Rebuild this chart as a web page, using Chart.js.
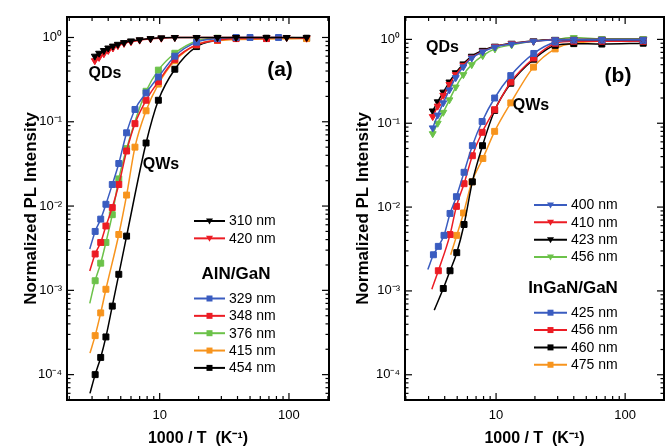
<!DOCTYPE html>
<html>
<head>
<meta charset="utf-8">
<script src="https://cdn.jsdelivr.net/npm/chart.js@4/dist/chart.umd.min.js"></script>
<style>
  body { margin: 0; background: #fff; }
  #wrap { position: relative; width: 670px; height: 448px; }
  .panel { position: absolute; top: 0; width: 335px; height: 448px; }
</style>
</head>
<body>
<div id="wrap">
  <div class="panel" style="left:0"><canvas id="chartA" width="335" height="448"></canvas></div>
  <div class="panel" style="left:335px"><canvas id="chartB" width="335" height="448"></canvas></div>
</div>
<script>
// =================================================================
// Data - x = 1000/T (K^-1), y = normalized PL
// =================================================================
// Panel (a) - AlN/GaN
const aQdX    = [3.15, 3.4, 3.7, 4.0, 4.35, 4.75, 5.3, 6.0, 7.0, 8.5, 10.3, 13.1, 19.3, 28, 39, 67, 96, 137];
const aQd310  = [0.60, 0.65, 0.70, 0.75, 0.79, 0.83, 0.87, 0.91, 0.94, 0.97, 0.99, 1.0, 1.0, 1.0, 1.0, 1.0, 1.0, 1.0];
const aQd420  = [0.53, 0.58, 0.64, 0.70, 0.75, 0.80, 0.85, 0.89, 0.93, 0.96, 0.98, 1.0, 1.0, 1.0, 1.0, 1.0, 1.0, 0.98];

const aQw329X = [3.17, 3.5, 3.84, 4.3, 4.83, 5.55, 6.44, 7.85, 9.77, 13.1, 19.3, 28, 39, 50, 83];
const aQw329  = [5.0e-3, 7.0e-3, 1.05e-2, 1.8e-2, 3.2e-2, 7.4e-2, 0.14, 0.22, 0.34, 0.60, 0.88, 0.97, 1.0, 1.0, 1.0];
const aQw348X = [3.17, 3.5, 3.84, 4.3, 4.83, 5.55, 6.44, 7.85, 9.77, 13.1, 19.3, 28, 39, 67];
const aQw348  = [2.7e-3, 3.7e-3, 5.8e-3, 9.6e-3, 1.8e-2, 4.5e-2, 9.5e-2, 0.18, 0.30, 0.55, 0.82, 0.93, 0.97, 0.97];
const aQw376X = [3.17, 3.5, 3.84, 4.3, 4.83, 5.55, 7.85, 9.77, 13.1, 19.3, 28, 39];
const aQw376  = [1.3e-3, 2.1e-3, 3.7e-3, 7.9e-3, 2.1e-2, 4.8e-2, 0.23, 0.41, 0.65, 0.91, 0.98, 1.0];
const aQw415X = [3.17, 3.5, 3.84, 4.83, 5.55, 6.44, 7.85, 9.77, 13.1, 19.3, 28, 137];
const aQw415  = [2.9e-4, 5.4e-4, 1.03e-3, 4.6e-3, 1.35e-2, 5.0e-2, 0.135, 0.28, 0.53, 0.82, 0.92, 0.97];
const aQw454X = [3.17, 3.5, 3.84, 4.3, 4.83, 5.55, 7.85, 9.77, 13.1, 19.3, 28, 39, 67, 137];
const aQw454  = [1.0e-4, 1.6e-4, 2.8e-4, 6.5e-4, 1.55e-3, 4.4e-3, 5.6e-2, 0.18, 0.42, 0.78, 0.93, 0.98, 0.98, 0.98];
// low-T end of the fitted curves (where each line starts)
const aFitStart = { qw329: [2.88, 3.1e-3], qw348: [2.88, 1.7e-3], qw376: [2.88, 7e-4], qw415: [2.89, 1.8e-4], qw454: [2.89, 6e-5] };

// Panel (b) - InGaN/GaN
const bQdX    = [3.23, 3.53, 3.9, 4.35, 4.87, 5.58, 6.48, 7.88, 9.8, 13.2, 19.5, 28.7, 40, 66, 138];
const bQd400  = [0.088, 0.125, 0.175, 0.25, 0.35, 0.47, 0.60, 0.71, 0.81, 0.88, 0.95, 0.99, 1.0, 1.0, 1.0];
const bQd410  = [0.12, 0.16, 0.215, 0.29, 0.38, 0.49, 0.61, 0.72, 0.82, 0.89, 0.95, 0.99, 1.0, 1.0, 1.0];
const bQd423  = [0.14, 0.18, 0.235, 0.31, 0.40, 0.51, 0.63, 0.74, 0.83, 0.90, 0.96, 1.0, 1.0, 1.0, 1.0];
const bQd456  = [0.075, 0.10, 0.135, 0.19, 0.27, 0.38, 0.50, 0.64, 0.77, 0.86, 0.95, 1.0, 1.05, 1.02, 1.02];

const bQw425X = [3.27, 3.57, 3.95, 4.4, 4.93, 5.65, 6.55, 7.8, 9.75, 13, 19.6, 28.7, 40, 66, 138];
const bQw425  = [2.7e-3, 3.4e-3, 4.6e-3, 8.4e-3, 1.33e-2, 2.6e-2, 5.4e-2, 0.105, 0.20, 0.37, 0.68, 0.93, 0.98, 0.98, 0.97];
const bQw456X = [3.57, 4.4, 4.93, 5.65, 6.55, 7.8, 9.75, 13, 19.6, 28.7, 40, 66, 138];
const bQw456  = [1.74e-3, 4.7e-3, 1.02e-2, 1.9e-2, 4.1e-2, 7.8e-2, 0.145, 0.31, 0.60, 0.90, 0.95, 0.95, 0.95];
const bQw460X = [3.9, 4.4, 4.96, 5.65, 6.55, 7.85, 9.75, 13, 19.6, 28.7, 40, 66, 138];
const bQw460  = [1.07e-3, 1.74e-3, 2.86e-3, 6.2e-3, 2.0e-2, 5.4e-2, 0.142, 0.30, 0.58, 0.85, 0.89, 0.88, 0.90];
const bQw475X = [4.96, 5.6, 6.5, 7.9, 9.75, 13, 19.5, 28.7, 40, 138];
const bQw475  = [4.6e-3, 8.5e-3, 2.0e-2, 3.8e-2, 8.0e-2, 0.175, 0.467, 0.77, 0.90, 0.98];
const bFitStart = { qw425: [2.96, 1.8e-3], qw456: [3.18, 1.05e-3], qw460: [3.32, 5.9e-4], qw475: [4.45, 2.7e-3] };

// Tick values
const xMajorTicks = [10, 100];
const xMinorTicks = [2, 3, 4, 5, 6, 7, 8, 9, 20, 30, 40, 50, 60, 70, 80, 90, 200];
const yMajorTicks = [1e-4, 1e-3, 1e-2, 1e-1, 1];
const yMinorTicks = [];
[-5, -4, -3, -2, -1, 0].forEach(e => { for (let m = 2; m <= 9; m++) yMinorTicks.push(m * Math.pow(10, e)); });
const supDigits = { '0': '⁰', '1': '¹', '2': '²', '3': '³', '4': '⁴', '-': '⁻' };

// Colours
const cBlue = '#3a5cc0', cRed = '#ec1c24', cGreen = '#6cc24a', cOrange = '#f7941d', cBlack = '#000000';
const FONT = "'Liberation Sans', Arial, Helvetica, sans-serif";

// =================================================================
// Helpers
// =================================================================
const pts = (xs, ys) => xs.map((x, i) => ({ x: x, y: ys[i] }));

function series(label, color, xs, ys, start, marker) {
    const p = pts(xs, ys);
    const tri = marker === 'tri';
    return [
        {   // fitted curve
            label: label, isFit: true,
            data: start ? [{ x: start[0], y: start[1] }].concat(p) : p,
            borderColor: color, borderWidth: 1.5,
            pointRadius: 0, cubicInterpolationMode: 'monotone', fill: false
        },
        {   // measured points
            label: label, marker: marker, color: color,
            data: p, showLine: false,
            pointStyle: tri ? 'triangle' : 'rect', rotation: tri ? 180 : 0,
            pointRadius: tri ? 4 : 4.2,
            backgroundColor: color, borderColor: color, borderWidth: 1
        }
    ];
}

// frame, inward ticks, annotations and legend
const decoPlugin = {
    id: 'deco',
    afterDraw(chart, args, opts) {
        const { ctx, chartArea: a, scales: { x, y } } = chart;
        ctx.save();
        ctx.strokeStyle = '#000';
        ctx.lineWidth = 1.2;
        const seg = (x1, y1, x2, y2) => { ctx.beginPath(); ctx.moveTo(x1, y1); ctx.lineTo(x2, y2); ctx.stroke(); };
        const yTicks = (vals, len) => vals.forEach(v => {
            if (v < y.min || v > y.max) return;
            const py = y.getPixelForValue(v);
            seg(a.left, py, a.left + len, py); seg(a.right, py, a.right - len, py);
        });
        const xTicks = (vals, len) => vals.forEach(v => {
            if (v < x.min || v > x.max) return;
            const px = x.getPixelForValue(v);
            seg(px, a.bottom, px, a.bottom - len); seg(px, a.top, px, a.top + len);
        });
        yTicks(yMinorTicks, 3.5); yTicks(yMajorTicks, 7);
        xTicks(xMinorTicks, 4); xTicks(xMajorTicks, 7);
        ctx.lineWidth = 2;
        ctx.strokeRect(a.left, a.top, a.right - a.left, a.bottom - a.top);

        // annotations
        ctx.fillStyle = '#000';
        ctx.textAlign = 'center';
        ctx.textBaseline = 'middle';
        opts.notes.forEach(n => {
            ctx.font = 'bold ' + n.size + 'px ' + FONT;
            ctx.fillText(n.text, n.x, n.y);
        });

        // legend
        const L = opts.legend;
        const items = chart.data.datasets.filter(d => !d.isFit);
        let row = L.y0;
        items.forEach((d, i) => {
            if (i === L.headAfter) {
                ctx.font = 'bold 17px ' + FONT;
                ctx.textAlign = 'center';
                ctx.fillStyle = '#000';
                ctx.fillText(L.head, L.headX, L.headY);
                row = L.y1;
            }
            ctx.strokeStyle = d.color; ctx.lineWidth = 2;
            seg(L.x0, row, L.x1, row);
            ctx.fillStyle = d.color;
            const mx = (L.x0 + L.x1) / 2;
            ctx.beginPath();
            if (d.marker === 'tri') {
                ctx.moveTo(mx - 3.5, row - 2.5); ctx.lineTo(mx + 3.5, row - 2.5); ctx.lineTo(mx, row + 3.5);
            } else {
                ctx.rect(mx - 3, row - 3, 6, 6);
            }
            ctx.fill();
            ctx.fillStyle = '#000';
            ctx.font = '14px ' + FONT;
            ctx.textAlign = 'left';
            ctx.fillText(d.label, L.x1 + 4, row + 0.5);
            row += L.step;
        });
        ctx.restore();
    }
};

function makeChart(id, datasets, xMin, xMax, yMax, yAxisW, yTitlePad, deco) {
    return new Chart(document.getElementById(id), {
        type: 'line',
        data: { datasets: datasets },
        options: {
            responsive: false,
            animation: false,
            devicePixelRatio: 1,
            layout: { padding: { top: 17, right: 6, bottom: 0, left: 0 } },
            plugins: { legend: { display: false }, tooltip: { enabled: false }, deco: deco },
            scales: {
                x: {
                    type: 'logarithmic', min: xMin, max: xMax,
                    grid: { display: false, drawTicks: false }, border: { display: false },
                    afterBuildTicks: s => { s.ticks = xMajorTicks.map(v => ({ value: v })); },
                    afterFit: s => { s.height = 48; },
                    ticks: { autoSkip: false, maxRotation: 0, padding: 8, color: '#000',
                             font: { family: FONT, size: 13 }, callback: v => String(v) },
                    title: { display: true, text: '1000 / T  (K⁻¹)', color: '#000', padding: { top: 0, bottom: 0 },
                             font: { family: FONT, size: 16, weight: 'bold', lineHeight: 1.2 } }
                },
                y: {
                    type: 'logarithmic', min: 5e-5, max: yMax,
                    grid: { display: false, drawTicks: false }, border: { display: false },
                    afterBuildTicks: s => { s.ticks = yMajorTicks.map(v => ({ value: v })); },
                    afterFit: s => { s.width = yAxisW; },
                    ticks: { autoSkip: false, padding: 5, color: '#000', font: { family: FONT, size: 13 },
                             callback: v => '10' + String(Math.round(Math.log10(v))).split('').map(c => supDigits[c]).join('') },
                    title: { display: true, text: 'Normalized PL Intensity', color: '#000', padding: { top: yTitlePad, bottom: 0 },
                             font: { family: FONT, size: 17, weight: 'bold', lineHeight: 1.2 } }
                }
            }
        },
        plugins: [decoPlugin]
    });
}

document.addEventListener('DOMContentLoaded', () => {
    // =================================================================
    // 1. Panel (a) - AlN/GaN  (first dataset is drawn on top)
    // =================================================================
    const dsA = [].concat(
        series('310 nm', cBlack, aQdX, aQd310, null, 'tri'),
        series('420 nm', cRed, aQdX, aQd420, null, 'tri'),
        series('329 nm', cBlue, aQw329X, aQw329, aFitStart.qw329, 'sq'),
        series('348 nm', cRed, aQw348X, aQw348, aFitStart.qw348, 'sq'),
        series('376 nm', cGreen, aQw376X, aQw376, aFitStart.qw376, 'sq'),
        series('415 nm', cOrange, aQw415X, aQw415, aFitStart.qw415, 'sq'),
        series('454 nm', cBlack, aQw454X, aQw454, aFitStart.qw454, 'sq')
    );
    makeChart('chartA', dsA, 1.92, 204, 1.75, 67, 21, {
        notes: [
            { text: 'QDs', x: 105, y: 74, size: 16 },
            { text: 'QWs', x: 161, y: 165, size: 16 },
            { text: '(a)', x: 280, y: 70, size: 21 }
        ],
        legend: { x0: 194, x1: 225, y0: 221, y1: 298.5, step: 17.35, headAfter: 2,
                  head: 'AlN/GaN', headX: 236, headY: 274 }
    });

    // =================================================================
    // 2. Panel (b) - InGaN/GaN
    // =================================================================
    const dsB = [].concat(
        series('400 nm', cBlue, bQdX, bQd400, null, 'tri'),
        series('410 nm', cRed, bQdX, bQd410, null, 'tri'),
        series('423 nm', cBlack, bQdX, bQd423, null, 'tri'),
        series('456 nm', cGreen, bQdX, bQd456, null, 'tri'),
        series('425 nm', cBlue, bQw425X, bQw425, bFitStart.qw425, 'sq'),
        series('456 nm', cRed, bQw456X, bQw456, bFitStart.qw456, 'sq'),
        series('460 nm', cBlack, bQw460X, bQw460, bFitStart.qw460, 'sq'),
        series('475 nm', cOrange, bQw475X, bQw475, bFitStart.qw475, 'sq')
    );
    makeChart('chartB', dsB, 1.97, 200, 1.85, 70, 18, {
        notes: [
            { text: 'QDs', x: 107.5, y: 48, size: 16 },
            { text: 'QWs', x: 196, y: 106, size: 16 },
            { text: '(b)', x: 283, y: 76, size: 21 }
        ],
        legend: { x0: 199, x1: 232, y0: 205, y1: 312.7, step: 17.35, headAfter: 4,
                  head: 'InGaN/GaN', headX: 238, headY: 288 }
    });
});
</script>
</body>
</html>
